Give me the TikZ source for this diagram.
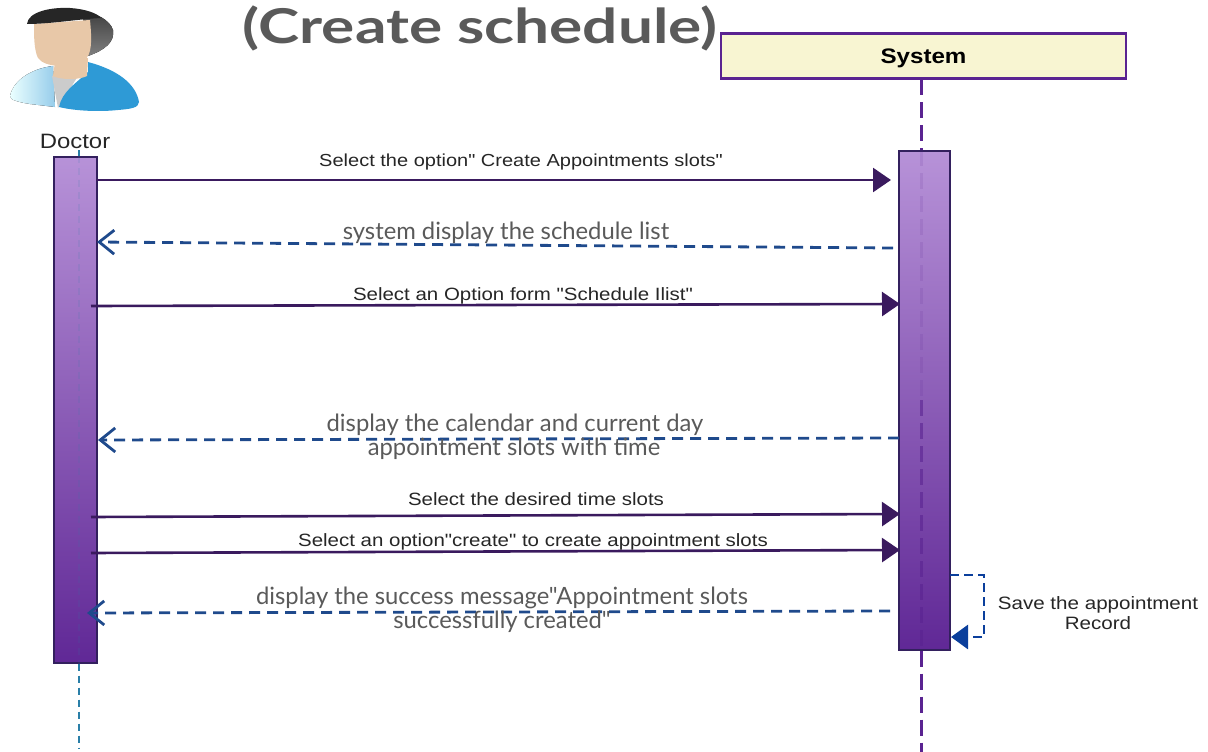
\documentclass[tikz,border=0pt]{standalone}
\usepackage{fontspec}
\setmainfont{Liberation Sans}
\newfontfamily\msgfont[FakeStretch=1.15]{Liberation Sans}
\newfontfamily\titlefont[FakeStretch=1.295]{Lato}
\newfontfamily\replyfont{Lato}
\usetikzlibrary{arrows.meta,positioning}

\definecolor{msgdark}{HTML}{3A1A5E}
\definecolor{replyblue}{HTML}{1F4A8C}
\definecolor{selfblue}{HTML}{0B3F9C}
\definecolor{barline}{HTML}{33205E}
\definecolor{bartop}{HTML}{B792D8}
\definecolor{barbottom}{HTML}{602896}
\definecolor{lifepurple}{HTML}{5A2391}
\definecolor{lifeblue}{HTML}{2A7FA8}
\definecolor{greytext}{HTML}{5A5A5A}
\definecolor{boxfill}{HTML}{F8F5D2}
\definecolor{skin}{HTML}{E8C8A8}
\definecolor{shirtblue}{HTML}{2E9AD6}

\tikzset{
    bar/.style={draw=barline, line width=1.2pt, top color=bartop, bottom color=barbottom, inner sep=0pt},
    msg/.style={msgdark, line width=2.6pt, -{Triangle[length=18pt,width=24pt]}},
    reply/.style={replyblue, line width=2.8pt, dash pattern=on 11pt off 7pt, -{Straight Barb[length=15pt,width=24pt,line width=2.8pt]}},
    msgtext/.style={font=\msgfont\fontsize{17.8}{20}\selectfont, text=black!85, inner sep=0pt, yshift=-2pt},
    replytext/.style={font=\replyfont\fontsize{23.8}{28}\selectfont, text=greytext, inner sep=0pt, yshift=-2pt},
    doctorlife/.style={lifeblue, line width=1.2pt, dash pattern=on 7pt off 5pt},
    systemlife/.style={lifepurple, line width=3pt, dash pattern=on 16pt off 7pt},
}

\begin{document}
\begin{tikzpicture}[x=1pt, y=-1pt]
    \useasboundingbox (0,0) rectangle (1208,752);

    % The doctor figure
    \fill[top color=black!75, bottom color=black!50] (82,12) .. controls (95,12) and (110,20) .. (113,30)
        .. controls (115,42) and (105,50) .. (88,56) -- cycle;
    \fill[left color=cyan!8, right color=shirtblue!50] (10,96) .. controls (14,78) and (35,68) .. (53,66)
        -- (55,107) -- (30,104) .. controls (18,102) and (10,100) .. (10,96) -- cycle;
    \fill[black!20] (52,76) -- (78,76) -- (58,108) -- cycle;
    \fill[shirtblue] (88,62) .. controls (118,70) and (136,84) .. (139,102)
        .. controls (139,108) and (130,109) .. (118,110) .. controls (100,112) and (75,111) .. (59,107)
        .. controls (62,92) and (75,84) .. (88,72) -- cycle;
    \fill[skin] (55,62) -- (88,58) -- (87,76) .. controls (80,80) and (60,80) .. (53,76) -- cycle;
    \fill[skin] (34,24) -- (90,20) .. controls (92,40) and (92,56) .. (84,60)
        .. controls (70,68) and (45,68) .. (38,58) .. controls (34,50) and (34,36) .. (34,24) -- cycle;
    \fill[black!85] (27,24) .. controls (28,12) and (50,7) .. (70,8) .. controls (85,9) and (97,13) .. (101,18)
        .. controls (80,19) and (50,24) .. (27,24) -- cycle;

    % Header
    \node[font=\titlefont\bfseries\fontsize{48}{58}\selectfont, text=greytext, inner sep=0pt] (title) at (480,28) {(Create schedule)};
    \node[font=\msgfont\fontsize{20.8}{24}\selectfont, text=black!85, inner sep=0pt] (doctor) at (75,141) {Doctor};
    \node[draw=lifepurple, line width=2.6pt, fill=boxfill, minimum width=405pt, minimum height=45pt, text depth=0pt,
        inner sep=0pt, font=\msgfont\bfseries\fontsize{21}{25}\selectfont] (system) at (923.5,56) {System};

    % Bars, then lifelines
    \node[bar, minimum width=43pt, minimum height=506pt] (doctorbar) at (75.5,410) {};
    \node[bar, minimum width=51pt, minimum height=499pt] (systembar) at (924.5,400.5) {};
    \coordinate (doctortop) at (79,150);
    \coordinate (doctorend) at (79,748);
    \coordinate (systemtop) at (921.5,79);
    \coordinate (systemmid) at (921.5,400);
    \coordinate (systemend) at (921.5,752);
    \draw[doctorlife] (doctortop) -- (doctorbar.north -| doctortop);
    \draw[doctorlife, opacity=.12] (doctorbar.north -| doctortop) -- (doctorbar.south -| doctortop);
    \draw[doctorlife] (doctorbar.south -| doctortop) -- (doctorend);
    \draw[systemlife] (systemtop) -- (systembar.north -| systemtop);
    \draw[systemlife, opacity=.12] (systembar.north -| systemtop) -- (systemmid);
    \draw[systemlife, opacity=.6] (systemmid) -- (systembar.south -| systemtop);
    \draw[systemlife] (systembar.south -| systemtop) -- (systemend);

    % Messages
    \foreach \name/\xa/\ya/\xb/\yb in {one/96/180/891/180, two/91/306/900/304, three/91/517/900/514, four/91/553/900/550}{
        \coordinate (\name a) at (\xa,\ya);
        \coordinate (\name b) at (\xb,\yb);
        \draw[msg] (\name a) -- (\name b);
    }
    \foreach \name/\xa/\ya/\xb/\yb in {back/893/248/97/242, cal/899/438/98/440, done/890/611/87/613}{
        \coordinate (\name a) at (\xa,\ya);
        \coordinate (\name b) at (\xb,\yb);
        \draw[reply] (\name a) -- (\name b);
    }

    % Message labels
    \node[msgtext, font=\msgfont\fontsize{17.4}{20}\selectfont] (oneL) at (521,160) {Select the option" Create Appointments slots"};
    \node[msgtext] (twoL) at (523,294) {Select an Option form "Schedule Ilist"};
    \node[msgtext] (threeL) at (536,497) {Select the desired time slots};
    \node[msgtext] (fourL) at (533,540) {Select an option"create" to create appointment slots};
    \node[replytext] (backL) at (506,231) {system display the schedule list};
    \node[replytext] (calL) at (515,423) {display the calendar and current day};
    \node[replytext] (calM) at (514,447) {appointment slots with time};
    \node[replytext] (doneL) at (502,596) {display the success message"Appointment slots};
    \node[replytext] (doneM) at (502,620) {successfully created"};

    % Save on itself
    \coordinate (selfa) at (950,575);
    \coordinate (selfb) at (951,637);
    \draw[selfblue, line width=2.8pt, dash pattern=on 9pt off 5pt, -{Triangle[length=17pt,width=24pt]}]
        (selfa) -| (984,637) -- (selfb);
    \node[msgtext, align=center, font=\msgfont\fontsize{17.9}{20}\selectfont] (saveL) at (1098,611) {Save the appointment\\Record};
\end{tikzpicture}
\end{document}
